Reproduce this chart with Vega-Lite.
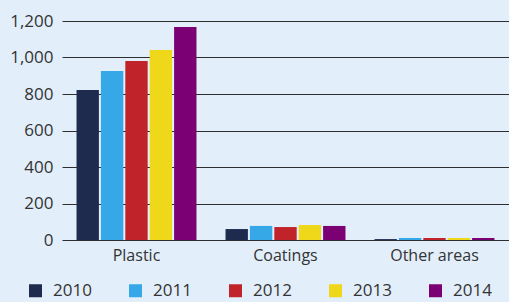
{
  "$schema": "https://vega.github.io/schema/vega-lite/v6.json",
  "width": 447,
  "height": 219,
  "autosize": {"type": "none"},
  "padding": {"left": 62, "top": 21, "right": 0, "bottom": 62},
  "background": "#e2eefa",
  "config": {
    "view": {"stroke": null},
    "font": "Open Sans",
    "axis": {"labelFont": "Open Sans", "labelColor": "#333333"},
    "legend": {"labelFont": "Open Sans", "labelColor": "#333333"}
  },
  "data": {
    "values": [
      {"area": "Plastic", "year": "2010", "value": 822},
      {"area": "Plastic", "year": "2011", "value": 926},
      {"area": "Plastic", "year": "2012", "value": 981},
      {"area": "Plastic", "year": "2013", "value": 1041},
      {"area": "Plastic", "year": "2014", "value": 1167},
      {"area": "Coatings", "year": "2010", "value": 60},
      {"area": "Coatings", "year": "2011", "value": 77},
      {"area": "Coatings", "year": "2012", "value": 71},
      {"area": "Coatings", "year": "2013", "value": 82},
      {"area": "Coatings", "year": "2014", "value": 77},
      {"area": "Other areas", "year": "2010", "value": 5},
      {"area": "Other areas", "year": "2011", "value": 11},
      {"area": "Other areas", "year": "2012", "value": 11},
      {"area": "Other areas", "year": "2013", "value": 11},
      {"area": "Other areas", "year": "2014", "value": 11}
    ]
  },
  "mark": {"type": "bar"},
  "encoding": {
    "x": {
      "field": "area",
      "type": "nominal",
      "sort": ["Plastic", "Coatings", "Other areas"],
      "scale": {"paddingInner": 0.195, "paddingOuter": 0.0975},
      "axis": {"title": null, "labelAngle": 0, "domain": false, "ticks": false, "labelPadding": 7, "labelFontSize": 16}
    },
    "xOffset": {
      "field": "year",
      "type": "nominal",
      "scale": {"paddingInner": 0.083, "paddingOuter": 0}
    },
    "y": {
      "field": "value",
      "type": "quantitative",
      "scale": {"domain": [0, 1200], "nice": false},
      "axis": {
        "title": null,
        "values": [0, 200, 400, 600, 800, 1000, 1200],
        "format": ",d",
        "domain": false,
        "ticks": false,
        "grid": true,
        "gridColor": "#2e2e2e",
        "gridWidth": 1.2,
        "labelPadding": 9,
        "labelFontSize": 17
      }
    },
    "color": {
      "field": "year",
      "type": "nominal",
      "scale": {
        "domain": ["2010", "2011", "2012", "2013", "2014"],
        "range": ["#1e2a4e", "#36a8e8", "#c0242a", "#efd81a", "#7a0074"]
      },
      "legend": {
        "title": null,
        "orient": "none",
        "direction": "horizontal",
        "columns": 5,
        "legendX": -35,
        "legendY": 261,
        "symbolType": "square",
        "symbolSize": 169,
        "symbolStrokeWidth": 0,
        "labelOffset": 9,
        "labelFontSize": 17,
        "columnPadding": 35
      }
    }
  }
}
